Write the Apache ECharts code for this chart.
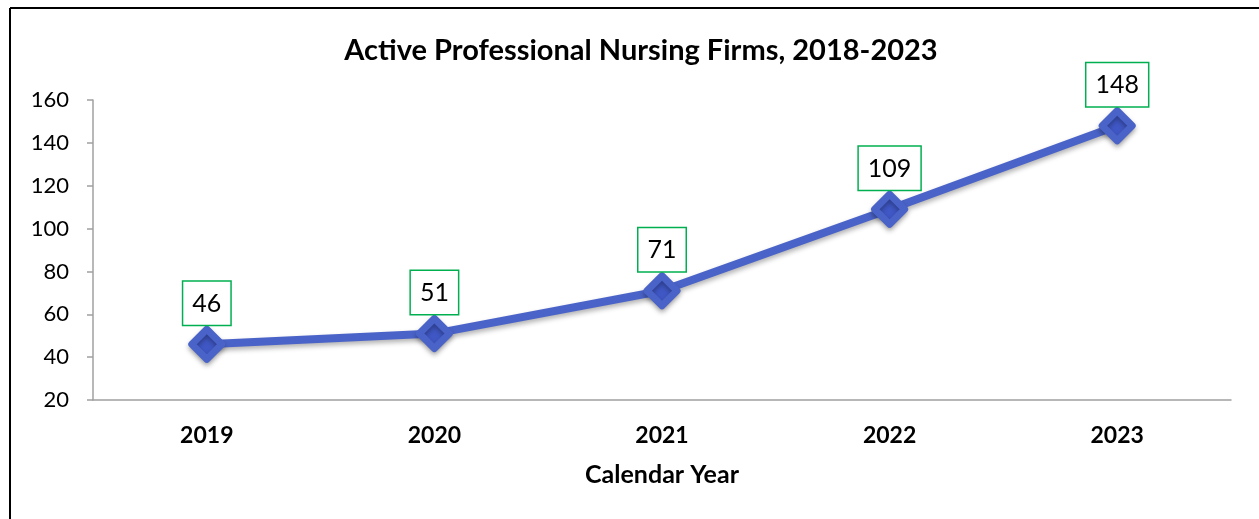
<!DOCTYPE html>
<html>
<head>
<meta charset="utf-8">
<script src="https://cdn.jsdelivr.net/npm/echarts@6/dist/echarts.min.js"></script>
<style>
html,body{margin:0;padding:0;background:#fff;}
#c{width:1259px;height:519px;}
</style>
</head>
<body>
<div id="c"></div>
<script>
var categories = ['2019', '2020', '2021', '2022', '2023'];
var firms = [46, 51, 71, 109, 148];
var yTicks = { min: 20, max: 160, interval: 20 };

var chart = echarts.init(document.getElementById('c'));
var font = 'Lato, "Open Sans", sans-serif';
chart.setOption({
  animation: false,
  backgroundColor: '#fff',
  title: {
    text: 'Active Professional Nursing Firms, 2018-2023',
    left: 636, top: 31, textAlign: 'center',
    textStyle: { fontFamily: font, fontSize: 29, fontWeight: 'bold', color: '#000' }
  },
  graphic: [
    { type: 'line', shape: { x1: 10, y1: 8, x2: 1259, y2: 8 }, style: { stroke: '#000', lineWidth: 2 } },
    { type: 'line', shape: { x1: 10, y1: 8, x2: 10, y2: 519 }, style: { stroke: '#000', lineWidth: 2 } }
  ],
  grid: { left: 93, right: 28, top: 100, bottom: 119 },
  xAxis: {
    type: 'category',
    data: categories,
    boundaryGap: true,
    name: 'Calendar Year',
    nameLocation: 'middle',
    nameGap: 62,
    nameTextStyle: { fontFamily: font, fontSize: 25, fontWeight: 'bold', color: '#000' },
    axisLine: { lineStyle: { color: '#a0a0a0', width: 1.5 } },
    axisTick: { show: false },
    axisLabel: { fontFamily: font, fontSize: 23, fontWeight: 'bold', color: '#000', margin: 24 }
  },
  yAxis: {
    type: 'value',
    min: yTicks.min, max: yTicks.max, interval: yTicks.interval,
    splitLine: { show: false },
    axisLine: { show: true, lineStyle: { color: '#a0a0a0', width: 1.5 } },
    axisTick: { show: true, length: 6, lineStyle: { color: '#a0a0a0', width: 1.5 } },
    axisLabel: { fontFamily: font, fontSize: 22, color: '#000', margin: 24 }
  },
  series: [{
    type: 'line',
    data: firms,
    symbol: 'diamond',
    symbolSize: 30,
    lineStyle: { color: '#4a63c8', width: 8, shadowColor: 'rgba(0,0,0,0.3)', shadowBlur: 5, shadowOffsetY: 3 },
    itemStyle: { color: '#4058c6', borderColor: '#4a63c8', borderWidth: 7, borderJoin: 'round', shadowColor: 'rgba(0,0,0,0.3)', shadowBlur: 5, shadowOffsetY: 3 },
    label: {
      show: true,
      position: 'top',
      distance: 1,
      fontFamily: font,
      fontSize: 25,
      lineHeight: 28,
      color: '#000',
      backgroundColor: '#fff',
      borderColor: '#00b050',
      borderWidth: 1.5,
      padding: [8, 9, 7, 9]
    }
  }]
});
</script>
</body>
</html>
